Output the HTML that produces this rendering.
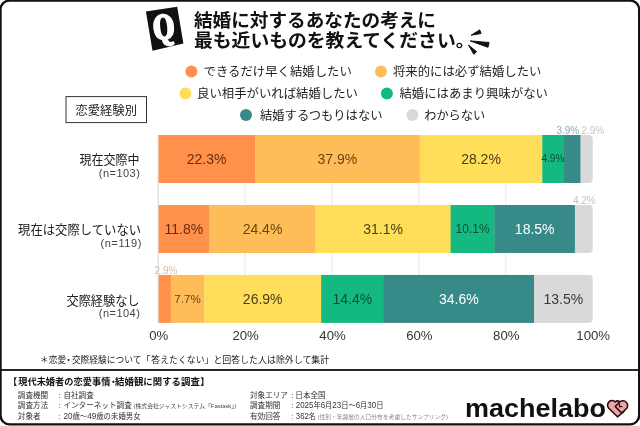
<!DOCTYPE html>
<html lang="ja"><head><meta charset="utf-8"><title>結婚に対する考え</title>
<style>html,body{margin:0;padding:0;background:#fff}svg{display:block}text{font-family:"Liberation Sans", "Noto Sans CJK JP", sans-serif}.n{font-family:"Liberation Sans",sans-serif}</style></head><body>
<svg width="640" height="426" viewBox="0 0 640 426">
<rect x="0" y="0" width="640" height="426" fill="#fff"/>
<rect x="0.55" y="0.55" width="638.6" height="423.8" rx="9" ry="9" fill="#fff" stroke="#111" stroke-width="2.3"/>
<rect x="1" y="369.1" width="638" height="1.8" fill="#111"/>
<polygon points="145.9,11.6 177.2,6.8 183.4,43.4 152.5,50.7" fill="#111"/>
<text x="0" y="0" font-size="30.5" font-weight="900" fill="#fff" stroke="#fff" stroke-width="2.6" stroke-linejoin="round" text-anchor="middle" transform="translate(164.9 38.4) rotate(-6) scale(0.86 1)" style="font-family:'Noto Serif CJK SC','Liberation Serif',serif">Q</text>
<text x="194" y="26.5" font-size="18.6" font-weight="bold" fill="#111" textLength="242" lengthAdjust="spacingAndGlyphs">結婚に対するあなたの考えに</text>
<text x="194" y="47" font-size="18.6" font-weight="bold" fill="#111" textLength="280.5" lengthAdjust="spacingAndGlyphs">最も近いものを教えてください。</text>
<g fill="#111" stroke="#111" stroke-width="1" stroke-linejoin="round"><polygon points="471.2,35.2 479.7,29.9 481.1,33.5"/><polygon points="470.2,40.9 489.1,42.5 488,47.3"/><polygon points="468.5,45 476.6,51.7 473.8,54.3"/></g>
<circle cx="191.4" cy="71.4" r="6" fill="#ff914d"/>
<text x="203.6" y="75.9" font-size="12.3" fill="#222" textLength="148.2" lengthAdjust="spacingAndGlyphs">できるだけ早く結婚したい</text>
<circle cx="381" cy="71.5" r="6" fill="#ffbd59"/>
<text x="393" y="76.0" font-size="12.3" fill="#222" textLength="148.5" lengthAdjust="spacingAndGlyphs">将来的には必ず結婚したい</text>
<circle cx="185.5" cy="93.5" r="6" fill="#ffde59"/>
<text x="197" y="98.0" font-size="12.3" fill="#222" textLength="161" lengthAdjust="spacingAndGlyphs">良い相手がいれば結婚したい</text>
<circle cx="386.9" cy="93.5" r="6" fill="#14b982"/>
<text x="399.5" y="98.0" font-size="12.3" fill="#222" textLength="148.5" lengthAdjust="spacingAndGlyphs">結婚にはあまり興味がない</text>
<circle cx="246" cy="115" r="6" fill="#368a88"/>
<text x="260" y="119.5" font-size="12.3" fill="#222" textLength="122.5" lengthAdjust="spacingAndGlyphs">結婚するつもりはない</text>
<circle cx="412.4" cy="115" r="6" fill="#d9d9d9"/>
<text x="424.2" y="119.5" font-size="12.3" fill="#222" textLength="61" lengthAdjust="spacingAndGlyphs">わからない</text>
<rect x="66" y="96.6" width="80.5" height="26" fill="#fff" stroke="#333" stroke-width="1"/>
<text x="106.2" y="114.6" font-size="12.2" fill="#222" text-anchor="middle" textLength="61.5" lengthAdjust="spacingAndGlyphs">恋愛経験別</text>
<line x1="158.2" y1="135" x2="158.2" y2="323" stroke="#d6d6d6" stroke-width="1"/>
<line x1="245.1" y1="135" x2="245.1" y2="323" stroke="#e9e9e9" stroke-width="1"/>
<line x1="332.0" y1="135" x2="332.0" y2="323" stroke="#e9e9e9" stroke-width="1"/>
<line x1="418.9" y1="135" x2="418.9" y2="323" stroke="#e9e9e9" stroke-width="1"/>
<line x1="505.8" y1="135" x2="505.8" y2="323" stroke="#e9e9e9" stroke-width="1"/>
<clipPath id="c135"><rect x="148.2" y="135.0" width="444.5" height="48.1" rx="4" ry="4"/></clipPath>
<g clip-path="url(#c135)">
<rect x="158.60" y="135.0" width="96.79" height="48.1" fill="#ff914d"/>
<rect x="255.09" y="135.0" width="164.98" height="48.1" fill="#ffbd59"/>
<rect x="419.77" y="135.0" width="122.83" height="48.1" fill="#ffde59"/>
<rect x="542.30" y="135.0" width="21.59" height="48.1" fill="#14b982"/>
<rect x="563.59" y="135.0" width="17.25" height="48.1" fill="#368a88"/>
<rect x="580.53" y="135.0" width="12.47" height="48.1" fill="#d9d9d9"/>
</g>
<clipPath id="c205"><rect x="148.2" y="205.0" width="444.5" height="48.1" rx="4" ry="4"/></clipPath>
<g clip-path="url(#c205)">
<rect x="158.60" y="205.0" width="51.17" height="48.1" fill="#ff914d"/>
<rect x="209.47" y="205.0" width="106.32" height="48.1" fill="#ffbd59"/>
<rect x="315.49" y="205.0" width="135.43" height="48.1" fill="#ffde59"/>
<rect x="450.62" y="205.0" width="44.18" height="48.1" fill="#14b982"/>
<rect x="494.50" y="205.0" width="80.68" height="48.1" fill="#368a88"/>
<rect x="574.89" y="205.0" width="18.11" height="48.1" fill="#d9d9d9"/>
</g>
<clipPath id="c274"><rect x="148.2" y="274.7" width="444.5" height="48.2" rx="4" ry="4"/></clipPath>
<g clip-path="url(#c274)">
<rect x="158.60" y="274.7" width="12.50" height="48.2" fill="#ff914d"/>
<rect x="170.80" y="274.7" width="33.76" height="48.2" fill="#ffbd59"/>
<rect x="204.26" y="274.7" width="117.18" height="48.2" fill="#ffde59"/>
<rect x="321.14" y="274.7" width="62.87" height="48.2" fill="#14b982"/>
<rect x="383.71" y="274.7" width="150.64" height="48.2" fill="#368a88"/>
<rect x="534.04" y="274.7" width="58.96" height="48.2" fill="#d9d9d9"/>
</g>
<text class="n" x="206.6" y="163.8" font-size="14" fill="#6a2c0c" text-anchor="middle">22.3%</text>
<text class="n" x="337.4" y="163.8" font-size="14" fill="#6b4311" text-anchor="middle">37.9%</text>
<text class="n" x="481.0" y="163.8" font-size="14" fill="#4b4119" text-anchor="middle">28.2%</text>
<text class="n" x="552.9" y="162.3" font-size="10" fill="#0a4d35" text-anchor="middle">4.9%</text>
<text class="n" x="183.8" y="233.8" font-size="14" fill="#6a2c0c" text-anchor="middle">11.8%</text>
<text class="n" x="262.5" y="233.8" font-size="14" fill="#6b4311" text-anchor="middle">24.4%</text>
<text class="n" x="383.1" y="233.8" font-size="14" fill="#4b4119" text-anchor="middle">31.1%</text>
<text class="n" x="472.6" y="233.0" font-size="12" fill="#0a4d35" text-anchor="middle">10.1%</text>
<text class="n" x="534.7" y="233.8" font-size="14" fill="#ffffff" text-anchor="middle">18.5%</text>
<text class="n" x="187.5" y="302.7" font-size="11.6" fill="#6b4311" text-anchor="middle">7.7%</text>
<text class="n" x="262.7" y="303.5" font-size="14" fill="#4b4119" text-anchor="middle">26.9%</text>
<text class="n" x="352.4" y="303.5" font-size="14" fill="#0a4d35" text-anchor="middle">14.4%</text>
<text class="n" x="458.9" y="303.5" font-size="14" fill="#ffffff" text-anchor="middle">34.6%</text>
<text class="n" x="563.4" y="303.5" font-size="14" fill="#3a3a3a" text-anchor="middle">13.5%</text>
<text class="n" x="567.8" y="134.2" font-size="10" fill="#82b0b0" text-anchor="middle">3.9%</text>
<text class="n" x="592.8" y="134.2" font-size="10" fill="#c6c6c6" text-anchor="middle">2.9%</text>
<text class="n" x="584.3" y="204.3" font-size="10" fill="#c2c2c2" text-anchor="middle">4.2%</text>
<text class="n" x="166.0" y="274.0" font-size="10" fill="#e0b9a8" text-anchor="middle">2.9%</text>
<text class="n" x="158.7" y="340.0" font-size="13.2" fill="#333" text-anchor="middle">0%</text>
<text class="n" x="245.6" y="340.0" font-size="13.2" fill="#333" text-anchor="middle">20%</text>
<text class="n" x="332.5" y="340.0" font-size="13.2" fill="#333" text-anchor="middle">40%</text>
<text class="n" x="419.4" y="340.0" font-size="13.2" fill="#333" text-anchor="middle">60%</text>
<text class="n" x="506.3" y="340.0" font-size="13.2" fill="#333" text-anchor="middle">80%</text>
<text class="n" x="593.2" y="340.0" font-size="13.2" fill="#333" text-anchor="middle">100%</text>
<text x="139.5" y="164.1" font-size="12.8" fill="#222" text-anchor="end" textLength="60" lengthAdjust="spacingAndGlyphs">現在交際中</text>
<text x="139.8" y="176.7" font-size="11" fill="#444" text-anchor="end" textLength="41" lengthAdjust="spacing">(n=103)</text>
<text x="141.1" y="234.1" font-size="12.8" fill="#222" text-anchor="end" textLength="123" lengthAdjust="spacingAndGlyphs">現在は交際していない</text>
<text x="141.4" y="246.7" font-size="11" fill="#444" text-anchor="end" textLength="41" lengthAdjust="spacing">(n=119)</text>
<text x="139.5" y="304.6" font-size="12.8" fill="#222" text-anchor="end" textLength="73" lengthAdjust="spacingAndGlyphs">交際経験なし</text>
<text x="139.8" y="317.2" font-size="11" fill="#444" text-anchor="end" textLength="41" lengthAdjust="spacing">(n=104)</text>
<text x="39.7" y="362.5" font-size="9" fill="#222">＊</text>
<text x="48.7" y="362.5" font-size="9" fill="#222" textLength="17.4" lengthAdjust="spacingAndGlyphs">恋愛</text>
<text x="68.5" y="362.5" font-size="9" fill="#222" text-anchor="middle">・</text>
<text x="71.9" y="362.5" font-size="9" fill="#222" textLength="69.6" lengthAdjust="spacingAndGlyphs">交際経験について</text>
<text x="141.6" y="362.5" font-size="9" fill="#222">「</text>
<text x="151.3" y="362.5" font-size="9" fill="#222" textLength="53.3" lengthAdjust="spacingAndGlyphs">答えたくない</text>
<text x="204.6" y="362.5" font-size="9" fill="#222">」</text>
<text x="213.4" y="362.5" font-size="9" fill="#222" textLength="115.8" lengthAdjust="spacingAndGlyphs">と回答した人は除外して集計</text>
<text x="8.0" y="385.3" font-size="9.3" font-weight="bold" fill="#111">【</text>
<text x="18.2" y="385.3" font-size="9.3" font-weight="bold" fill="#111" textLength="92.3" lengthAdjust="spacingAndGlyphs">現代未婚者の恋愛事情</text>
<text x="113.5" y="385.3" font-size="9.3" font-weight="bold" fill="#111" text-anchor="middle">・</text>
<text x="115.1" y="385.3" font-size="9.3" font-weight="bold" fill="#111" textLength="84.8" lengthAdjust="spacingAndGlyphs">結婚観に関する調査</text>
<text x="200.2" y="385.3" font-size="9.3" font-weight="bold" fill="#111">】</text>
<text x="17.8" y="397.6" font-size="7.6" fill="#333">調査機関</text>
<text x="58.3" y="397.6" font-size="7.6" fill="#333">:</text>
<text x="63.4" y="397.6" font-size="7.6" fill="#333">自社調査</text>
<text x="17.8" y="408.2" font-size="7.6" fill="#333">調査方法</text>
<text x="58.3" y="408.2" font-size="7.6" fill="#333">:</text>
<text x="63.4" y="408.2" font-size="7.6" fill="#333">インターネット調査</text>
<text x="133.6" y="408" font-size="5.7" fill="#444" textLength="102.5" lengthAdjust="spacingAndGlyphs">(株式会社ジャストシステム「Fastask」)</text>
<text x="17.8" y="418.9" font-size="7.6" fill="#333">対象者</text>
<text x="58.3" y="418.9" font-size="7.6" fill="#333">:</text>
<text x="63.4" y="418.9" font-size="7.6" fill="#333" textLength="77.2" lengthAdjust="spacingAndGlyphs"><tspan font-size="8.3">20</tspan>歳～<tspan font-size="8.3">49</tspan>歳の未婚男女</text>
<text x="250" y="397.6" font-size="7.6" fill="#333">対象エリア</text>
<text x="291.3" y="397.6" font-size="7.6" fill="#333">:</text>
<text x="295.3" y="397.6" font-size="7.6" fill="#333">日本全国</text>
<text x="250" y="408.2" font-size="7.6" fill="#333">調査期間</text>
<text x="291.3" y="408.2" font-size="7.6" fill="#333">:</text>
<text x="295.8" y="408.2" font-size="7.6" fill="#333" textLength="87.6" lengthAdjust="spacingAndGlyphs"><tspan font-size="8.3">2025</tspan>年<tspan font-size="8.3">6</tspan>月<tspan font-size="8.3">23</tspan>日～<tspan font-size="8.3">6</tspan>月<tspan font-size="8.3">30</tspan>日</text>
<text x="250" y="418.9" font-size="7.6" fill="#333">有効回答</text>
<text x="291.3" y="418.9" font-size="7.6" fill="#333">:</text>
<text x="295.8" y="418.9" font-size="7.6" fill="#333" textLength="20.2" lengthAdjust="spacingAndGlyphs"><tspan font-size="8.3">362</tspan>名</text>
<text x="317.6" y="418.7" font-size="5.7" fill="#888" textLength="130.4" lengthAdjust="spacingAndGlyphs">(性別・年齢層の人口分布を考慮したサンプリング)</text>
<text class="n" x="464.9" y="417.3" font-size="25" font-weight="bold" fill="#111" textLength="141" lengthAdjust="spacingAndGlyphs">machelabo</text>
<g stroke="#2a0d0d" stroke-width="1.6" stroke-linejoin="round" stroke-linecap="round" fill="#f2a5a8"><path d="M617.5 416.8 L608.8 408.2 A4.45 4.45 0 0 1 615.3 402 A2.6 2.6 0 0 1 619.3 401.6 L624 411.5 Z"/><path d="M618.5 403.3 A4.85 4.85 0 1 1 627 408 L621.8 413.1 L615.2 406.5 Z"/><path d="M619.5 404.2 L619.5 406.7 L622 406.7" fill="none" stroke-width="1.3"/></g>
</svg></body></html>
